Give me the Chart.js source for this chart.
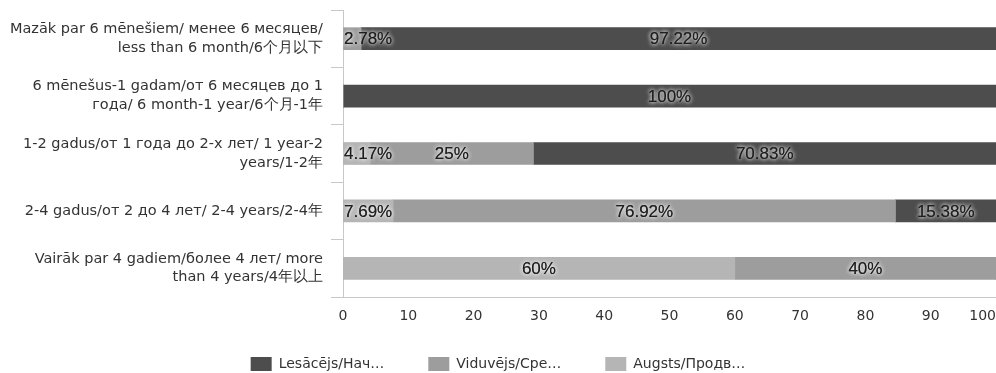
<!DOCTYPE html>
<html>
<head>
<meta charset="utf-8">
<script src="https://cdn.jsdelivr.net/npm/chart.js@4/dist/chart.umd.min.js"></script>
<style>
  html, body { margin: 0; padding: 0; background: #ffffff; }
  #wrap { width: 996px; height: 373px; position: relative; }
</style>
</head>
<body>
<div id="wrap"><canvas id="chart"></canvas></div>
<script>
// Experience groups (y axis), each split into lines
const categories = [
  ['Mazāk par 6 mēnešiem/ менее 6 месяцев/', 'less than 6 month/6个月以下'],
  ['6 mēnešus-1 gadam/от 6 месяцев до 1', 'года/ 6 month-1 year/6个月-1年'],
  ['1-2 gadus/от 1 года до 2-х лет/ 1 year-2', 'years/1-2年'],
  ['2-4 gadus/от 2 до 4 лет/ 2-4 years/2-4年'],
  ['Vairāk par 4 gadiem/более 4 лет/ more', 'than 4 years/4年以上']
];

// Share of respondents per level, in percent
const advanced     = [0,    0,   4.17, 7.69,  60];
const intermediate = [2.78, 0,   25,   76.92, 40];
const beginner     = [97.22, 100, 70.83, 15.38, 0];

const seriesNames = ['Lesācējs/Нач…', 'Viduvējs/Сре…', 'Augsts/Продв…'];
const xTicks = [0, 10, 20, 30, 40, 50, 60, 70, 80, 90, 100];

const colDark = '#4d4d4d';
const colMid = '#9d9d9d';
const colLight = '#b5b5b5';

// Percent labels inside each segment, kept inside the plot on the left
const segmentLabels = {
  id: 'segmentLabels',
  afterDatasetsDraw(chart) {
    const ctx = chart.ctx;
    const left = chart.chartArea.left;
    ctx.save();
    ctx.font = '17px "Liberation Sans", Arial, sans-serif';
    ctx.textBaseline = 'middle';
    ctx.textAlign = 'center';
    chart.data.datasets.forEach((ds, di) => {
      const meta = chart.getDatasetMeta(di);
      if (meta.hidden) return;
      meta.data.forEach((bar, i) => {
        const v = ds.data[i];
        if (!v) return;
        const txt = v + '%';
        const w = ctx.measureText(txt).width;
        let cx = (bar.x + bar.base) / 2;
        if (cx - w / 2 < left + 1) cx = left + 1 + w / 2;
        ctx.shadowColor = 'rgba(255,255,255,0.9)';
        ctx.shadowBlur = 4;
        ctx.fillStyle = '#1e1e1e';
        ctx.fillText(txt, cx, bar.y + 1);
        ctx.fillText(txt, cx, bar.y + 1);
      });
    });
    ctx.restore();
  }
};

// Value axis labels, kept inside the canvas at the right edge
const xTickLabels = {
  id: 'xTickLabels',
  afterDraw(chart) {
    const ctx = chart.ctx;
    const sx = chart.scales.x;
    ctx.save();
    ctx.font = '14px "DejaVu Sans", sans-serif';
    ctx.fillStyle = '#333333';
    ctx.textBaseline = 'middle';
    ctx.textAlign = 'center';
    xTicks.forEach(v => {
      const txt = String(v);
      const w = ctx.measureText(txt).width;
      let x = sx.getPixelForValue(v);
      if (x + w / 2 > chart.width) x = chart.width - w / 2;
      ctx.fillText(txt, x, sx.top + 19);
    });
    ctx.restore();
  }
};

const barOpts = { barThickness: 22, borderWidth: 0 };

new Chart(document.getElementById('chart'), {
  type: 'bar',
  data: {
    labels: categories,
    datasets: [
      Object.assign({ label: seriesNames[2], data: advanced, backgroundColor: colLight }, barOpts),
      Object.assign({ label: seriesNames[1], data: intermediate, backgroundColor: colMid }, barOpts),
      Object.assign({ label: seriesNames[0], data: beginner, backgroundColor: colDark }, barOpts)
    ]
  },
  options: {
    indexAxis: 'y',
    responsive: true,
    maintainAspectRatio: false,
    animation: false,
    layout: { padding: { top: 10, right: 0, left: 0, bottom: -8 } },
    scales: {
      x: {
        stacked: true,
        min: 0,
        max: 100,
        afterFit(scale) { scale.paddingRight = 0; scale.paddingLeft = 0; scale.height = 16; },
        afterBuildTicks(scale) { scale.ticks = xTicks.map(v => ({ value: v })); },
        grid: { display: false, drawTicks: false },
        border: { display: true, color: '#c8c8c8', width: 1 },
        ticks: { display: true, color: 'rgba(0,0,0,0)', font: { size: 14, family: 'DejaVu Sans' }, padding: 12 }
      },
      y: {
        stacked: true,
        grid: { display: true, offset: true, drawOnChartArea: false, drawTicks: true, tickLength: 12, color: '#c8c8c8' },
        border: { display: true, color: '#c8c8c8', width: 1 },
        ticks: {
          color: '#333333',
          font: { size: 14.5, family: 'DejaVu Sans', lineHeight: 1.3 },
          padding: 8
        },
        afterFit(scale) { scale.width = 343; scale.paddingTop = 0; scale.paddingBottom = 0; }
      }
    },
    plugins: {
      legend: {
        position: 'bottom',
        reverse: true,
        labels: {
          boxWidth: 21,
          boxHeight: 14,
          padding: 44,
          color: '#333333',
          font: { size: 14, family: 'DejaVu Sans' }
        }
      },
      tooltip: { enabled: false }
    }
  },
  plugins: [segmentLabels, xTickLabels]
});
</script>
</body>
</html>
